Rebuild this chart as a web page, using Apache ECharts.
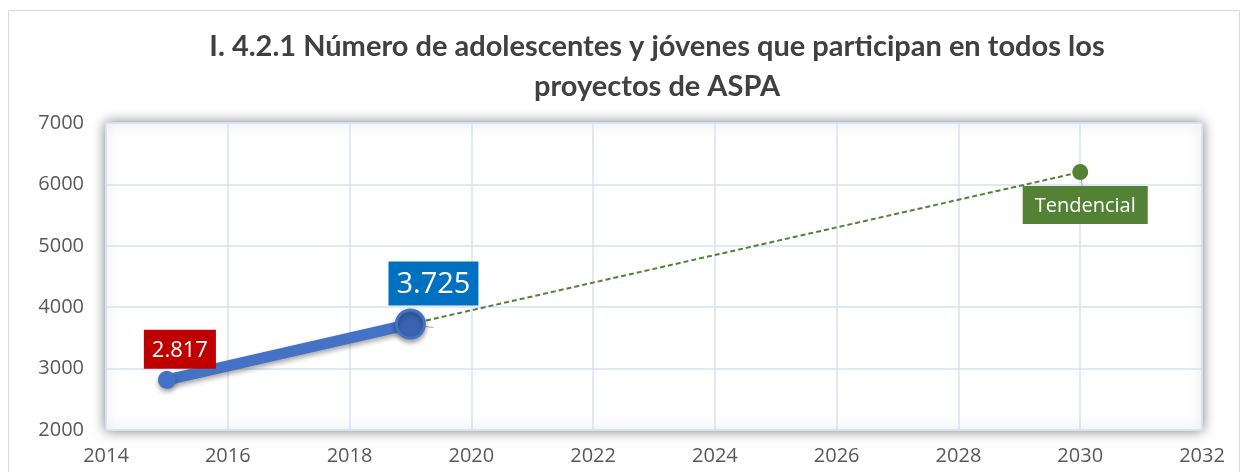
<!DOCTYPE html>
<html><head><meta charset="utf-8">
<script src="https://cdn.jsdelivr.net/npm/echarts@6/dist/echarts.min.js"></script>
<style>html,body{margin:0;padding:0;background:#fff}#c{width:1244px;height:472px}</style>
</head><body><div id="c"></div>
<script>
const titleLines = ["I. 4.2.1 Número de adolescentes y jóvenes que participan en todos los", "proyectos de ASPA"];
const actualYears = [2015, 2019];
const actualValues = [2817, 3725];
const actualLabels = ["2.817", "3.725"];
const trendYears = [2019, 2030];
const trendValues = [3725, 6200];
const trendLabel = "Tendencial";

const chart = echarts.init(document.getElementById('c'));
const font = "'Open Sans', 'Noto Sans', sans-serif";

const actualData = actualYears.map((y, i) => ({
  value: [y, actualValues[i]],
  symbolSize: i === 0 ? 18 : 28,
  itemStyle: i === 0 ? { color: '#4472C4' } : { color: '#3A64B0', borderColor: '#4472C4', borderWidth: 3 },
  label: i === 0 ? {
    show: true, formatter: actualLabels[i], position: 'top', offset: [13, 3],
    backgroundColor: '#C00000', color: '#fff', fontSize: 22, fontFamily: font,
    padding: [10, 8, 7, 8]
  } : {
    show: true, formatter: actualLabels[i], position: 'top', offset: [23, 2],
    backgroundColor: '#0070C0', color: '#fff', fontSize: 29, fontFamily: font,
    padding: [9, 8, 6, 8]
  },
  labelLine: i === 1 ? { show: true, lineStyle: { color: '#A6A6A6', width: 1 } } : { show: false }
}));

const trendData = trendYears.map((y, i) => ({
  value: [y, trendValues[i]],
  symbol: i === 0 ? 'none' : 'circle',
  symbolSize: 16,
  label: i === 1 ? {
    show: true, formatter: trendLabel, position: 'bottom', offset: [5, 1],
    backgroundColor: '#548235', color: '#fff', fontSize: 20, fontFamily: font,
    padding: [10, 12, 8, 12]
  } : { show: false },
  labelLine: i === 1 ? { show: true, lineStyle: { color: '#A6A6A6', width: 1 } } : { show: false }
}));

chart.setOption({
  animation: false,
  backgroundColor: '#fff',
  title: {
    text: titleLines.join('\n'), left: 652, textAlign: 'center', top: 22,
    textStyle: { fontFamily: "Lato, 'Open Sans', sans-serif", fontWeight: 'bold', fontSize: 29, color: '#404040', lineHeight: 40 }
  },
  graphic: [{
    type: 'rect', shape: { x: 8.5, y: 10.5, width: 1231, height: 470 },
    style: { fill: 'none', stroke: '#D9D9D9', lineWidth: 1 }, silent: true, z: -1
  }],
  grid: {
    left: 106, right: 42, top: 123, bottom: 42, show: true,
    backgroundColor: '#fff', borderColor: '#D9E1F2', borderWidth: 1,
    shadowColor: 'rgba(0,0,0,0.5)', shadowBlur: 12, shadowOffsetX: 0, shadowOffsetY: 0
  },
  xAxis: {
    type: 'value', min: 2014, max: 2032, interval: 2,
    axisLine: { show: false }, axisTick: { show: false },
    splitLine: { show: true, lineStyle: { color: '#D9E1F2', width: 1.5 } },
    axisLabel: { color: '#595959', fontSize: 20, fontFamily: font, margin: 16, formatter: v => String(v) }
  },
  yAxis: {
    type: 'value', min: 2000, max: 7000, interval: 1000,
    axisLine: { show: false }, axisTick: { show: false },
    splitLine: { show: true, lineStyle: { color: '#D9E1F2', width: 1.5 } },
    axisLabel: { color: '#595959', fontSize: 20, fontFamily: font, margin: 22, formatter: v => String(v) }
  },
  series: [{
    type: 'line', data: trendData, z: 2,
    lineStyle: { color: '#548235', width: 2, type: [5, 3] },
    itemStyle: { color: '#548235' }
  }, {
    type: 'line', data: actualData, symbol: 'circle', z: 3,
    lineStyle: { color: '#4472C4', width: 11, shadowColor: 'rgba(0,0,0,0.35)', shadowBlur: 5, shadowOffsetY: 3 },
    itemStyle: { color: '#4472C4', shadowColor: 'rgba(0,0,0,0.35)', shadowBlur: 5, shadowOffsetY: 3 }
  }]
});
</script></body></html>
